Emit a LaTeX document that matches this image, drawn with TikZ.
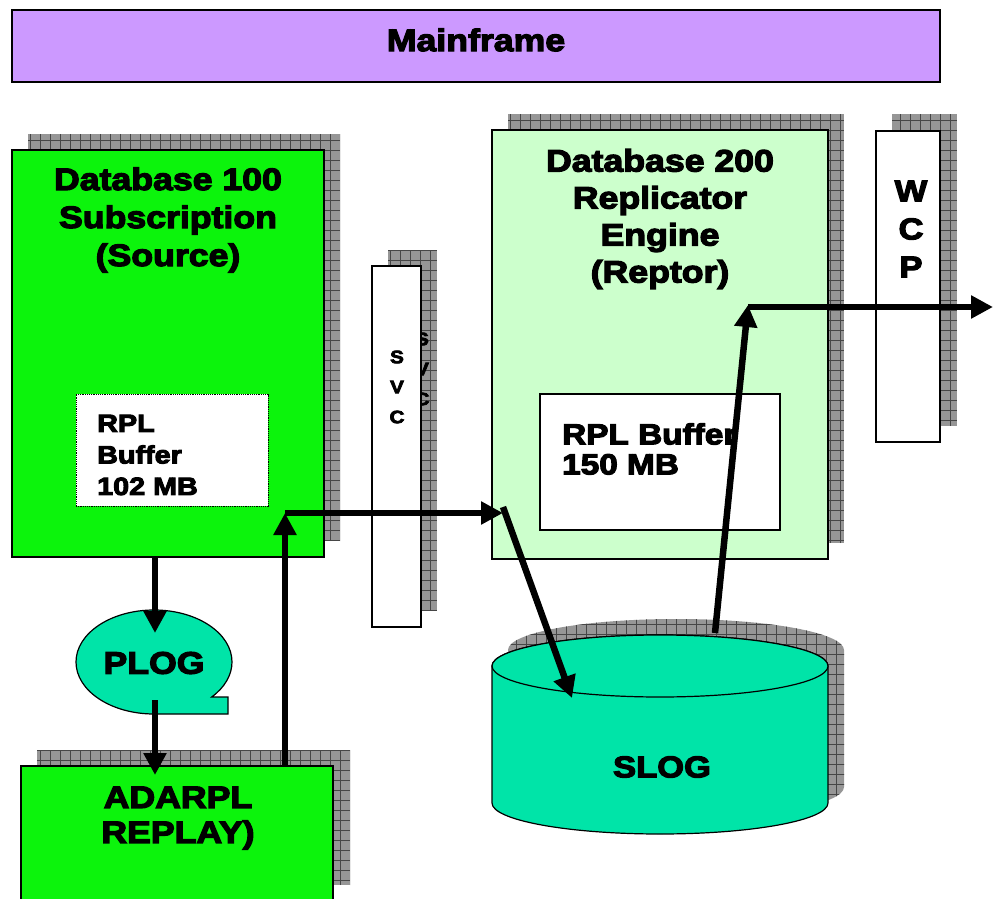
\documentclass[tikz,border=0pt]{standalone}
\usepackage{fontspec}
\setmainfont{Liberation Sans}[FakeStretch=1.15, BoldFeatures={FakeBold=4}]
\usepackage{tikz}
\usetikzlibrary{arrows.meta}

\definecolor{mainlav}{RGB}{204,153,255}
\definecolor{srcgreen}{RGB}{12,244,12}
\definecolor{repgreen}{RGB}{204,255,204}
\definecolor{logteal}{RGB}{0,228,168}
\definecolor{shadowgray}{RGB}{150,150,150}
\definecolor{shadowline}{RGB}{70,70,70}

\tikzset{
  flow/.style={line width=6.5pt, -{Triangle[length=22pt,width=22pt]}},
  box/.style={draw, line width=1.2pt, inner sep=0pt, outer sep=0pt},
  shadowgrid/.style={draw=shadowline, line width=0.6pt, step=10pt},
  title/.style={font=\bfseries\fontsize{31}{38}\selectfont, align=center, inner sep=0pt},
  small/.style={font=\bfseries\fontsize{25}{31.5}\selectfont, align=left, inner sep=0pt, anchor=west},
  letters/.style={font=\bfseries\fontsize{18}{30}\selectfont, align=center, inner sep=0pt},
}

% grey hatched drop shadow, top-left and bottom-right corners
\newcommand{\hatchbox}[4]{%
  \fill[shadowgray] (#1,#2) rectangle (#3,#4);
  \begin{scope}
    \clip (#1,#2) rectangle (#3,#4);
    \draw[shadowgrid] (#1,#4) grid (#3,#2);
  \end{scope}}

\begin{document}
\begin{tikzpicture}[x=1pt, y=-1pt]
    \useasboundingbox (0,0) rectangle (994,899);

    % shadows
    \hatchbox{28}{134}{340}{541}
    \hatchbox{388}{250}{437}{610}
    \hatchbox{508}{114}{844}{543}
    \hatchbox{892}{114}{957}{426}
    \hatchbox{37}{750}{350}{885}
    \begin{scope}[shift={(16,-16)}]
      \clip (492,666) -- (492,803) arc[start angle=180, end angle=0, x radius=168, y radius=31]
        -- (828,666) arc[start angle=0, end angle=-180, x radius=168, y radius=31] -- cycle;
      \fill[shadowgray] (480,600) rectangle (850,850);
      \draw[shadowgrid] (480,850) grid (850,600);
    \end{scope}
    \node[letters] (svcghost) at (422,369) {S\\V\\C};

    % boxes
    \node[box, fill=mainlav, minimum width=928pt, minimum height=72pt] (mainframe) at (476,46) {};
    \node[title] at (476,40) {Mainframe};

    \node[box, fill=srcgreen, minimum width=312pt, minimum height=407pt] (db100) at (168,353.5) {};
    \node[title] (db100txt) at (168,220) {Database 100\\Subscription\\(Source)};
    \node[box, densely dotted, line width=0.8pt, fill=white, minimum width=192pt, minimum height=112pt] (rpl100) at (172,450) {};
    \node[small] (rpl100txt) at (97,455) {RPL\\Buffer\\102 MB};

    \node[box, fill=white, minimum width=49pt, minimum height=361pt] (svc) at (396.5,446.5) {};
    \node[letters] (svctxt) at (397,387) {S\\V\\C};

    \node[box, fill=repgreen, minimum width=336pt, minimum height=429pt] (db200) at (660,344.5) {};
    \node[title, font=\bfseries\fontsize{31}{37}\selectfont] (db200txt) at (660,219) {Database 200\\Replicator\\Engine\\(Reptor)};
    \node[box, fill=white, minimum width=240pt, minimum height=136pt] (rpl200) at (660,462) {};
    \node[small, font=\bfseries\fontsize{29}{30}\selectfont] (rpl200txt) at (562,449) {RPL Buffer\\150 MB};

    \node[box, fill=white, minimum width=64pt, minimum height=311pt] (wcp) at (908,286.5) {};
    \node[letters, font=\bfseries\fontsize{30}{38}\selectfont] (wcptxt) at (911,229) {W\\C\\P};

    \node[box, fill=srcgreen, minimum width=312pt, minimum height=135pt] (adarpl) at (177,833.5) {};
    \node[title, font=\bfseries\fontsize{31}{35}\selectfont] (adarpltxt) at (178,818) {ADARPL\\REPLAY)};

    % PLOG tape symbol
    \draw[line width=1.2pt, fill=logteal] (154,714) arc[start angle=90, end angle=402.3, x radius=78, y radius=52]
      -- (228,697) -- (228,714) -- cycle;
    \node[title] (plog) at (154,663) {PLOG};

    % SLOG cylinder
    \draw[line width=1.2pt, fill=logteal] (492,666) -- (492,803) arc[start angle=180, end angle=0, x radius=168, y radius=31]
      -- (828,666) arc[start angle=0, end angle=-180, x radius=168, y radius=31] -- cycle;
    \draw[line width=1.2pt, fill=logteal] (660,666) ellipse [x radius=168, y radius=31];
    \node[title, font=\bfseries\fontsize{30}{36}\selectfont] (slog) at (662,767) {SLOG};

    % arrow ends
    \coordinate (plogin) at (155,633);
    \coordinate (plogout) at (155,700);
    \coordinate (adarplin) at (155,775);
    \coordinate (adarplout) at (285,766);
    \coordinate (bend1) at (285,513);
    \coordinate (bend2) at (503,513);
    \coordinate (bend3) at (503,507);
    \coordinate (slogin) at (572,698);
    \coordinate (slogout) at (715,633);
    \coordinate (bend4) at (748,305);
    \coordinate (bend5) at (748,307);
    \coordinate (wcpout) at (993,307);

    \draw[flow] (db100.south -| plogin) -- (plogin);
    \draw[flow] (plogout) -- (adarplin);
    \draw[flow] (adarplout) -- (bend1);
    \draw[flow] (bend1 |- bend2) -- (bend2);
    \draw[flow] (bend3) -- (slogin);
    \draw[flow] (slogout) -- (bend4);
    \draw[flow] (bend5) -- (wcpout);
\end{tikzpicture}
\end{document}
